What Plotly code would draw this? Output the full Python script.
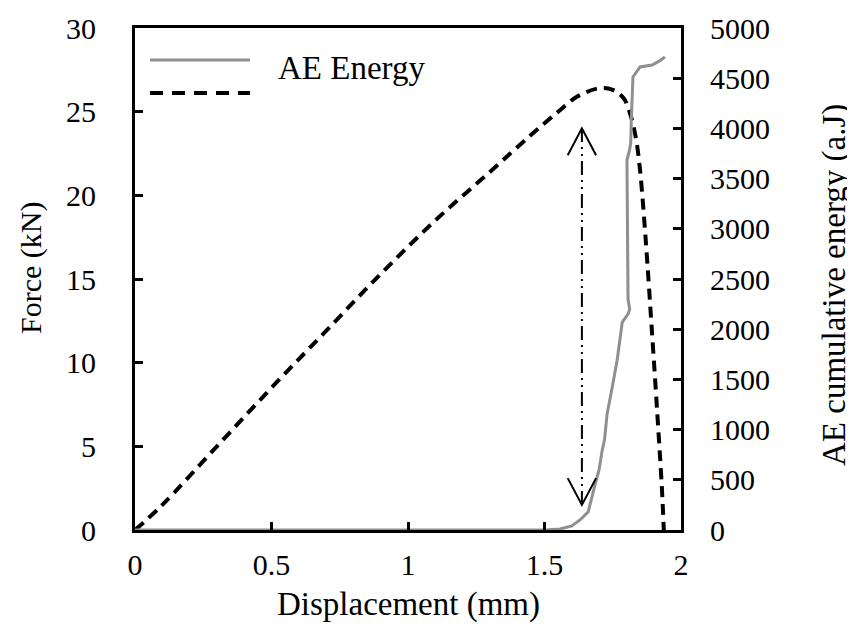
import plotly.graph_objects as go

# ---- data ----
force_disp = [0, 0.1, 0.3, 0.5, 0.7, 0.9, 1.1, 1.3, 1.45, 1.55, 1.62, 1.70,
              1.75, 1.79, 1.815, 1.835, 1.85, 1.87, 1.895, 1.915, 1.93, 1.937]
force_kn = [0, 1.5, 5.0, 8.5, 11.9, 15.3, 18.5, 21.4, 23.6, 25.0, 25.9, 26.4,
            26.3, 25.8, 24.8, 23.4, 21.5, 17.5, 11.5, 6.5, 2.5, 0]

ae_disp = [0, 1.50, 1.557, 1.60, 1.63, 1.66, 1.685, 1.70, 1.711, 1.72, 1.729, 1.74, 1.75,
           1.766, 1.777, 1.785, 1.806, 1.812, 1.806, 1.805, 1.803, 1.802, 1.812, 1.816,
           1.818, 1.824, 1.85, 1.894, 1.92, 1.941]
ae_energy = [0, 0, 10, 40, 100, 180, 450, 600, 790, 900, 1150, 1290, 1450,
             1690, 1890, 2070, 2150, 2200, 2300, 2800, 3300, 3685, 3790, 3860,
             4084, 4512, 4612, 4631, 4670, 4711]

x_ticks = [0, 0.5, 1, 1.5, 2]
y_ticks = [0, 5, 10, 15, 20, 25, 30]
y2_ticks = list(range(0, 5001, 500))

arrow_x = 1.637
arrow_top = 24.0
arrow_bottom = 1.5

FONT = "Liberation Serif"
W, H = 855, 630
OFF = 8  # page body margin
# plot area in window pixels
PL, PR, PT, PB = 135, 681, 28, 530
L, T = PL - OFF, PT - OFF
R = W - (PR - OFF)
B = H - (PB - OFF)
PW, PH = PR - PL, PB - PT


def px(xw):
    return (xw - PL) / PW


def py(yw):
    return (PB - yw) / PH


fig = go.Figure()
fig.add_trace(go.Scatter(x=ae_disp, y=ae_energy, mode="lines", name="AE Energy",
                         line=dict(color="#8f8f8f", width=3), yaxis="y2",
                         showlegend=False))
fig.add_trace(go.Scatter(x=force_disp, y=force_kn, mode="lines", name="Force",
                         line=dict(color="black", width=4, dash="11px,7px"),
                         line_shape="spline", showlegend=False))

shapes = []
# vertical dash-dot-dot arrow
shapes.append(dict(type="line", xref="x", yref="y", x0=arrow_x, x1=arrow_x,
                   y0=arrow_bottom, y1=arrow_top,
                   line=dict(color="black", width=2, dash="14px,5px,2px,5px,2px,5px")))
wx, wy = 0.052, 1.6
shapes.append(dict(type="path", xref="x", yref="y",
                   path=f"M{arrow_x - wx},{arrow_top - wy} L{arrow_x},{arrow_top} L{arrow_x + wx},{arrow_top - wy}",
                   line=dict(color="black", width=2)))
shapes.append(dict(type="path", xref="x", yref="y",
                   path=f"M{arrow_x - wx},{arrow_bottom + wy} L{arrow_x},{arrow_bottom} L{arrow_x + wx},{arrow_bottom + wy}",
                   line=dict(color="black", width=2)))
# legend samples
shapes.append(dict(type="line", xref="paper", yref="paper", x0=px(150), x1=px(250),
                   y0=py(60), y1=py(60), line=dict(color="#8f8f8f", width=3)))
shapes.append(dict(type="line", xref="paper", yref="paper", x0=px(150), x1=px(250),
                   y0=py(93), y1=py(93), line=dict(color="black", width=4, dash="13px,9px")))

annotations = [
    dict(text="AE Energy", xref="paper", yref="paper", x=px(276), y=py(68),
         xanchor="left", yanchor="middle", showarrow=False,
         font=dict(family=FONT, size=33, color="black")),
    dict(text="Displacement (mm)", xref="paper", yref="paper", x=px(408), y=py(604),
         xanchor="center", yanchor="middle", showarrow=False,
         font=dict(family=FONT, size=33, color="black")),
    dict(text="Force (kN)", xref="paper", yref="paper", x=px(31), y=py(268),
         xanchor="center", yanchor="middle", showarrow=False, textangle=-90,
         font=dict(family=FONT, size=30, color="black")),
    dict(text="AE cumulative energy (a.J)", xref="paper", yref="paper", x=px(834), y=py(285),
         xanchor="center", yanchor="middle", showarrow=False, textangle=-90,
         font=dict(family=FONT, size=33, color="black")),
]

axis_common = dict(showgrid=False, zeroline=False, showline=True, linecolor="black",
                   linewidth=3, ticks="inside", ticklen=8, tickwidth=2.5, tickcolor="black",
                   tickfont=dict(family=FONT, size=30, color="black"))

fig.update_layout(
    width=W, height=H,
    margin=dict(l=L, r=R, t=T, b=B, autoexpand=False),
    paper_bgcolor="white", plot_bgcolor="white",
    xaxis=dict(range=[0, 2], tickvals=x_ticks, mirror=True, ticklabelstandoff=6, **axis_common),
    yaxis=dict(range=[0, 30], tickvals=y_ticks, mirror=False, ticklabelstandoff=30, **axis_common),
    yaxis2=dict(range=[0, 5000], tickvals=y2_ticks, overlaying="y", side="right",
                ticklabelstandoff=20, **axis_common),
    shapes=shapes, annotations=annotations, showlegend=False,
)

fig.write_html("out.html")
